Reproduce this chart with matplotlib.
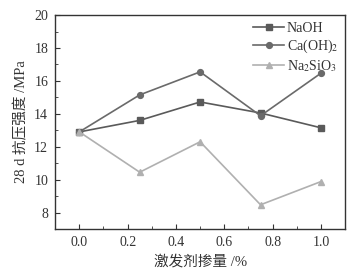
import matplotlib
matplotlib.use("Agg")
import matplotlib.pyplot as plt
from matplotlib.ticker import MultipleLocator

plt.rcParams['font.family'] = ['Liberation Serif', 'Noto Sans CJK SC']
plt.rcParams['mathtext.fontset'] = 'stix'

x = [0.0, 0.25, 0.5, 0.75, 1.0]
naoh = [12.9, 13.6, 14.72, 14.05, 13.15]
caoh2 = [12.9, 15.15, 16.55, 13.88, 16.47]
na2sio3 = [12.9, 10.45, 12.3, 8.47, 9.88]

fig = plt.figure(figsize=(3.58, 2.70), dpi=100)
ax = fig.add_axes([0.154, 0.152, 0.81, 0.792])

ax.plot(x, naoh, color='#5a5a5a', marker='s', markersize=4.2, lw=1.2, label='NaOH')
ax.plot(x, caoh2, color='#6a6a6a', marker='o', markersize=4.2, lw=1.2, label='Ca(OH)$_2$')
ax.plot(x, na2sio3, color='#b0b0b0', marker='^', markersize=4.5, lw=1.2, label='Na$_2$SiO$_3$')

ax.set_xlim(-0.1, 1.1)
ax.set_ylim(7, 20)
ax.xaxis.set_major_locator(MultipleLocator(0.2))
ax.xaxis.set_minor_locator(MultipleLocator(0.1))
ax.yaxis.set_major_locator(MultipleLocator(2))
ax.yaxis.set_minor_locator(MultipleLocator(1))
ax.set_yticks([8, 10, 12, 14, 16, 18, 20])
ax.set_xticks([0.0, 0.2, 0.4, 0.6, 0.8, 1.0])
ax.tick_params(which='both', direction='in', top=False, right=False, labelsize=10, colors='#333333')
ax.tick_params(which='major', length=3.5, pad=5)
ax.tick_params(which='minor', length=2)
for s in ax.spines.values():
    s.set_color('#333333')
    s.set_linewidth(1.0)

ax.set_xlabel('激发剂掺量 /%', fontsize=10.5, color='#333333', labelpad=4)
ax.set_ylabel('28 d 抗压强度 /MPa', fontsize=10.5, color='#333333', labelpad=4)

leg = ax.legend(loc='upper right', frameon=False, fontsize=10, handlelength=2.2,
                handletextpad=0.2, labelspacing=0.2, borderaxespad=0.1,
                bbox_to_anchor=(1.0, 1.0))
for t in leg.get_texts():
    t.set_color('#333333')

fig.savefig('out.png', dpi=100)
